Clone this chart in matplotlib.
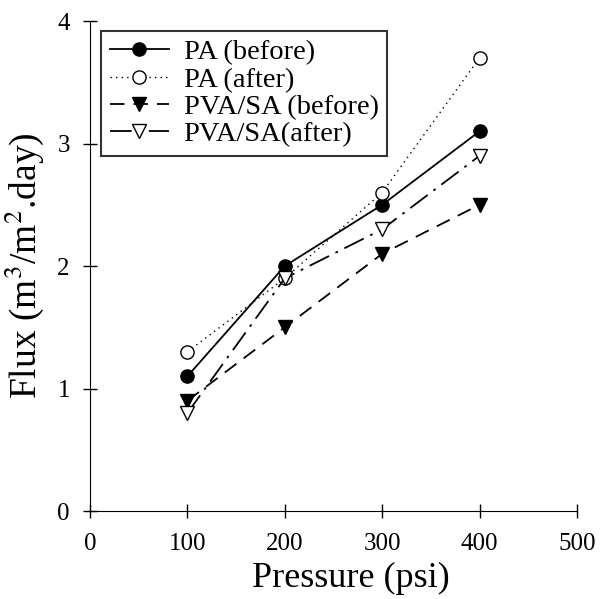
import matplotlib
matplotlib.use("Agg")
import matplotlib.pyplot as plt

pressure = [100, 200, 300, 400]
pa_before = [1.1, 2.0, 2.5, 3.1]
pa_after = [1.3, 1.9, 2.6, 3.7]
pva_before = [0.9, 1.5, 2.1, 2.5]
pva_after = [0.8, 1.9, 2.3, 2.9]
labels = ["PA (before)", "PA (after)", "PVA/SA (before)", "PVA/SA(after)"]

plt.rcParams['font.family'] = ['Liberation Serif', 'DejaVu Serif']
plt.rcParams['mathtext.fontset'] = 'stix'

fig = plt.figure(figsize=(6, 5.99), dpi=100)
ax = fig.add_axes([0.15, 0.1469, 0.8117, 0.818])

ax.plot(pressure, pa_before, color='black', lw=1.3, ls='-', marker='o', ms=9.5,
        mfc='black', mec='black', label=labels[0])
ax.plot(pressure, pa_after, color='black', lw=1.0, ls=(0, (1, 3)), marker='o', ms=9.5,
        mfc='white', mec='black', label=labels[1])
ax.plot(pressure, pva_before, color='black', lw=1.3, ls=(0, (8, 5)), marker='v', ms=9.5,
        mfc='black', mec='black', label=labels[2])
ax.plot(pressure, pva_after, color='black', lw=1.3, ls=(0, (12, 4, 1.5, 4)), marker='v', ms=9.5,
        mfc='white', mec='black', label=labels[3])

ax.set_xlim(0, 500)
ax.set_ylim(0, 4)
ax.set_xticks([0, 100, 200, 300, 400, 500])
ax.set_yticks([0, 1, 2, 3, 4])
ax.spines['top'].set_visible(False)
ax.spines['right'].set_visible(False)
ax.tick_params(direction='inout', length=10, width=1, labelsize=18)
ax.tick_params(axis='x', pad=11)
ax.tick_params(axis='y', pad=9.5)
ax.set_xlabel("Pressure (psi)", fontsize=26)
ax.xaxis.set_label_coords(0.536, -0.105)
ax.set_ylabel(r"Flux (m$^3$/m$^2$.day)", fontsize=27, labelpad=8)

leg = ax.legend(loc='upper left', fontsize=20.5, frameon=True, fancybox=False,
                edgecolor='black', handlelength=2.1, handletextpad=0.5,
                borderpad=0.3, labelspacing=0.05, borderaxespad=0,
                bbox_to_anchor=(0.0226, 0.980))
leg.get_frame().set_linewidth(1.5)

fig.savefig("out.png", dpi=100)
